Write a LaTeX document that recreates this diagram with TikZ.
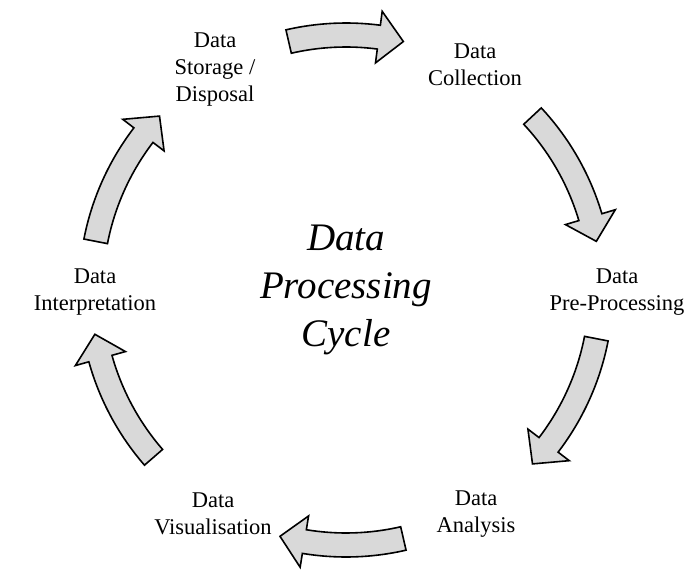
\documentclass[tikz,border=0pt]{standalone}
\usepackage{fontspec}
\setmainfont{Liberation Serif}
\usetikzlibrary{calc, positioning}

\begin{document}
\begin{tikzpicture}[x=1pt, y=1pt]
        \useasboundingbox (0, 0) rectangle (685, 571);

        \coordinate (C) at (346, 281);

        % curved block arrows round the cycle, start angle / tip angle
        \tikzstyle{a} = [draw, line width=1.6pt, fill=black!15, line join=miter];
        \foreach \sa/\ea in {103/77, 43/11, -11/-43, -77/-105, -139/-170, 169/137}{
            \pgfmathsetmacro{\ha}{\ea + 5.6}
            \draw [a] ($(C) + (\sa:267)$) arc [start angle=\sa, end angle=\ha, radius=267]
                -- ($(C) + (\ha:281)$) -- ($(C) + (\ea:255)$) -- ($(C) + (\ha:229)$)
                -- ($(C) + (\ha:243)$) arc [start angle=\ha, end angle=\sa, radius=243]
                -- cycle;
        }

        \tikzstyle{l} = [align=center, inner sep=0pt, font=\fontsize{22.5}{27}\selectfont];
        \node [l] (collect)  at (475, 506) {Data\\Collection};
        \node [l] (prep)     at (617, 279) {Data\\Pre-Processing};
        \node [l] (analysis) at (476,  57) {Data\\Analysis};
        \node [l] (visual)   at (213,  57) {Data\\Visualisation};
        \node [l] (interp)   at ( 95, 279) {Data\\Interpretation};
        \node [l] (storage)  at (215, 501) {Data\\Storage /\\Disposal};

        \node [align=center, inner sep=0pt, font=\fontsize{39}{48}\selectfont\itshape] (title) at (C) {Data\\Processing\\Cycle};
    \end{tikzpicture}
\end{document}
